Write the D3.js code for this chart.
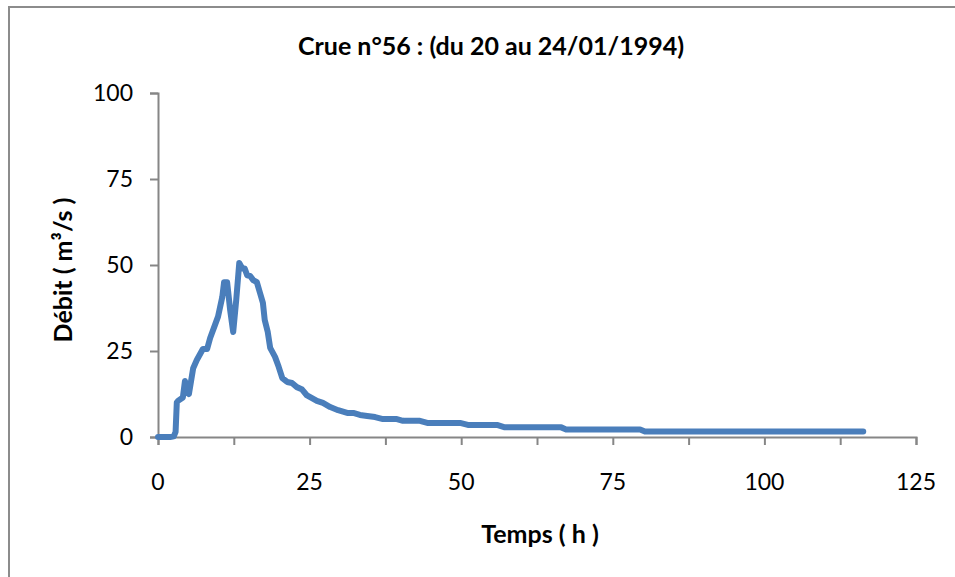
<!DOCTYPE html>
<html>
<head>
<meta charset="utf-8">
<script src="https://cdn.jsdelivr.net/npm/d3@7/dist/d3.min.js"></script>
<style>
  html, body { margin: 0; padding: 0; background: #fff; }
  svg { display: block; }
  text { font-family: Lato, "Open Sans", sans-serif; fill: #000; }
</style>
</head>
<body>
<svg id="chart" width="955" height="577"></svg>
<script>
const title = "Crue n°56 : (du 20 au 24/01/1994)";
const xLabel = "Temps ( h )";
const yLabel = "Débit ( m³/s )";
const xTicks = [0, 12.5, 25, 37.5, 50, 62.5, 75, 87.5, 100, 112.5, 125];
const xTickLabels = [0, 25, 50, 75, 100, 125];
const yTicks = [0, 25, 50, 75, 100];

// Time (h) and discharge (m3/s)
const time = [0, 1, 2, 2.6, 2.9, 3.1, 3.3, 4.1, 4.45, 4.8, 5.1, 5.8, 6.4, 7.4, 8.1, 8.6, 9.4, 9.9, 10.6, 10.9, 11.4, 11.9, 12.4, 12.9, 13.4, 13.9, 14.3, 14.7, 15.2, 15.7, 16.3, 16.8, 17.3, 17.6, 18.1, 18.5, 19.3, 19.9, 20.5, 21.3, 22.1, 22.9, 23.7, 24.5, 25.1, 26.2, 27.2, 28.4, 29.7, 31.2, 32.2, 33.3, 34.5, 35.8, 37.1, 39.4, 40.4, 43.2, 44.4, 49.8, 51.1, 55.9, 57.2, 66.5, 67.3, 79.5, 80.3, 116.3];
const flow = [0, 0, 0, 0.2, 1.5, 10, 10.5, 11.5, 16.3, 13, 12.5, 20, 22.4, 25.6, 25.6, 28.8, 32.6, 35, 40.7, 45, 45, 36.9, 30.5, 39.8, 50.6, 49, 49, 47, 46.8, 45.6, 45, 42, 39, 34, 30.5, 25.9, 23.3, 20.4, 17.1, 16, 15.7, 14.5, 13.9, 12.2, 11.6, 10.5, 9.9, 8.7, 7.8, 7, 7, 6.4, 6.1, 5.8, 5.2, 5.2, 4.7, 4.7, 4.1, 4.1, 3.5, 3.5, 2.8, 2.8, 2.2, 2.2, 1.6, 1.6];

const svg = d3.select("#chart");

// outer frame
svg.append("rect")
  .attr("x", 9).attr("y", 7).attr("width", 1000).attr("height", 1000)
  .attr("fill", "none").attr("stroke", "#8c8c8c").attr("stroke-width", 2);

const x = d3.scaleLinear().domain([0, 125]).range([158, 916]);
const y = d3.scaleLinear().domain([0, 100]).range([437, 93]);

const axisColor = "#868686";

// x axis
const xAxis = svg.append("g").attr("transform", `translate(0,${y(0)})`)
  .call(d3.axisBottom(x).tickValues(xTicks).tickSize(8).tickFormat(""));
xAxis.select(".domain").attr("stroke", axisColor).attr("stroke-width", 2);
xAxis.selectAll(".tick line").attr("stroke", axisColor).attr("stroke-width", 2);

svg.append("g").selectAll("text").data(xTickLabels).join("text")
  .attr("x", d => x(d)).attr("y", 490)
  .attr("text-anchor", "middle")
  .style("font-size", "23px")
  .text(d => d);

// y axis
const yAxis = svg.append("g").attr("transform", `translate(${x(0)},0)`)
  .call(d3.axisLeft(y).tickValues(yTicks).tickSize(8).tickFormat(""));
yAxis.select(".domain").attr("stroke", axisColor).attr("stroke-width", 2);
yAxis.selectAll(".tick line").attr("stroke", axisColor).attr("stroke-width", 2);

svg.append("g").selectAll("text").data(yTicks).join("text")
  .attr("x", 133).attr("y", d => y(d))
  .attr("dy", "0.35em")
  .attr("text-anchor", "end")
  .style("font-size", "23px")
  .text(d => d);

// data line
const pts = time.map((t, i) => [t, flow[i]]);
svg.append("path")
  .datum(pts)
  .attr("fill", "none")
  .attr("stroke", "#4a7ebb")
  .attr("stroke-width", 6)
  .attr("stroke-linejoin", "round")
  .attr("stroke-linecap", "round")
  .attr("d", d3.line().x(d => x(d[0])).y(d => y(d[1])));

// title
svg.append("text")
  .attr("x", 491).attr("y", 55)
  .attr("text-anchor", "middle")
  .style("font-size", "25px").style("font-weight", "bold")
  .text(title);

// x label
svg.append("text")
  .attr("x", 540).attr("y", 543)
  .attr("text-anchor", "middle")
  .style("font-size", "25px").style("font-weight", "bold")
  .text(xLabel);

// y label
svg.append("text")
  .attr("transform", "translate(72,270) rotate(-90)")
  .attr("text-anchor", "middle")
  .style("font-size", "25px").style("font-weight", "bold")
  .text(yLabel);
</script>
</body>
</html>
